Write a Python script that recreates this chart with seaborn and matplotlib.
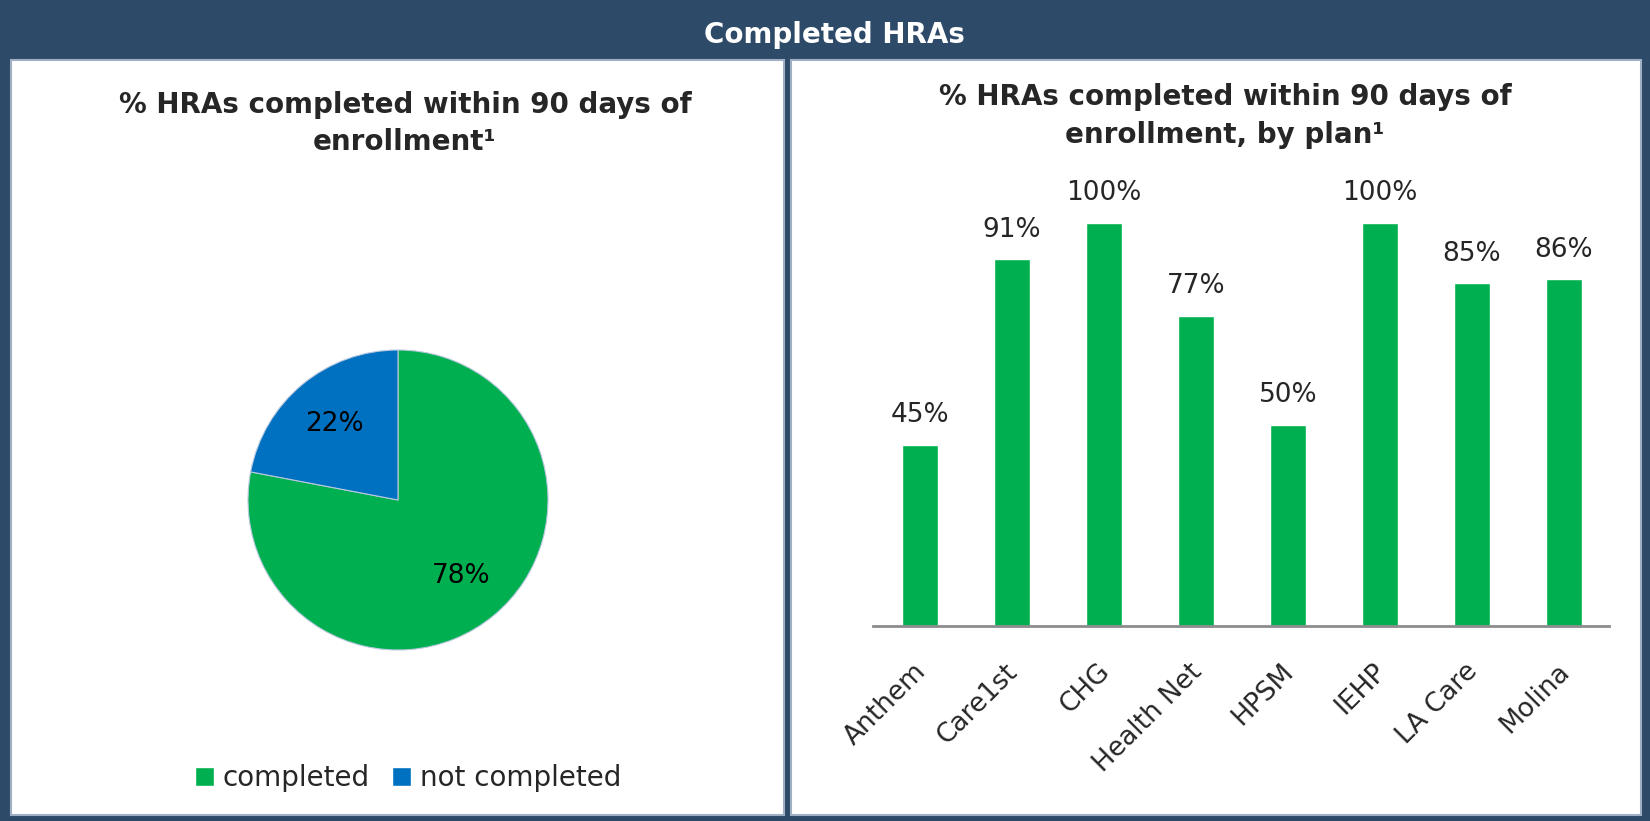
import numpy as np
import pandas as pd
import matplotlib
matplotlib.use("Agg")
import matplotlib.pyplot as plt
from matplotlib.patches import Rectangle, Patch
from matplotlib.transforms import ScaledTranslation
import seaborn as sns

# data
pie_labels = ["completed", "not completed"]
pie_values = [78, 22]
plans = ["Anthem", "Care1st", "CHG", "Health Net", "HPSM", "IEHP", "LA Care", "Molina"]
plan_pct = [45, 91, 100, 77, 50, 100, 85, 86]

green = "#00B050"
blue = "#0070C0"
navy = "#2E4A69"

sns.set_theme(style="white")
plt.rcParams['font.family'] = ['DejaVu Sans']

fig = plt.figure(figsize=(16.5, 8.21), dpi=100, facecolor=navy)

# white panels
W, H = 1650, 821
def panel(x0, y0, x1, y1):
    fig.patches.append(Rectangle((x0 / W, 1 - y1 / H), (x1 - x0) / W, (y1 - y0) / H,
                                 transform=fig.transFigure, facecolor="white",
                                 edgecolor="#9FB0C4", linewidth=1.5, zorder=-10))
panel(11, 60, 784, 815)
panel(791, 60, 1641, 815)

fig.text(834 / W, 1 - 35 / H, "Completed HRAs", color="white", fontsize=20,
         fontweight="bold", ha="center", va="center")

# left: pie
ax1 = fig.add_axes([248 / W, 1 - 650 / H, 300 / W, 300 / H])
ax1.pie(pie_values, colors=[green, blue], startangle=90, counterclock=False,
        autopct=lambda p: f"{p:.0f}%", pctdistance=0.66,
        wedgeprops=dict(linewidth=0.8, edgecolor="#B8C8E0"),
        textprops=dict(fontsize=19, color="black"))
ax1.set_xlim(-1, 1)
ax1.set_ylim(-1, 1)
ax1.set_aspect("equal")
ax1.axis("off")

fig.text(405 / W, 1 - 105 / H, "% HRAs completed within 90 days of", fontsize=20,
         fontweight="bold", ha="center", va="center")
fig.text(405 / W, 1 - 142 / H, "enrollment\u00b9", fontsize=20,
         fontweight="bold", ha="center", va="center")

handles = [Patch(facecolor=green, label=pie_labels[0]), Patch(facecolor=blue, label=pie_labels[1])]
fig.legend(handles=handles, loc="center", bbox_to_anchor=(408 / W, 1 - 778 / H), ncol=2,
           frameon=False, fontsize=20, handlelength=0.7, handleheight=0.7,
           handletextpad=0.3, columnspacing=0.8)

# right: bars
ax2 = fig.add_axes([873 / W, 1 - 626 / H, 736 / W, 403 / H])
df = pd.DataFrame({"plan": plans, "pct": plan_pct})
sns.barplot(data=df, x="plan", y="pct", color=green, saturation=1, width=0.39, ax=ax2)
ax2.set_xlim(-0.51, 7.49)
ax2.set_ylim(0, 100)
for i, v in enumerate(plan_pct):
    ax2.annotate(f"{v}%", (i, v), xytext=(0, 12), textcoords="offset points",
                 ha="center", va="bottom", fontsize=19, annotation_clip=False)
for s in ["top", "right", "left"]:
    ax2.spines[s].set_visible(False)
ax2.spines["bottom"].set_color("#8C8C8C")
ax2.spines["bottom"].set_linewidth(2)
ax2.set_yticks([])
ax2.set_xlabel("")
ax2.set_ylabel("")
ax2.tick_params(axis="x", length=0, pad=30)
shift = ScaledTranslation(2 / 100, 0, fig.dpi_scale_trans)
for lab in ax2.get_xticklabels():
    lab.set_rotation(45)
    lab.set_ha("right")
    lab.set_va("center")
    lab.set_rotation_mode("anchor")
    lab.set_fontsize(19)
    lab.set_transform(lab.get_transform() + shift)
ax2.patch.set_alpha(0)

fig.text(1225 / W, 1 - 97 / H, "% HRAs completed within 90 days of", fontsize=20,
         fontweight="bold", ha="center", va="center")
fig.text(1225 / W, 1 - 135 / H, "enrollment, by plan\u00b9", fontsize=20,
         fontweight="bold", ha="center", va="center")

fig.savefig("out.png", dpi=100, facecolor=navy)
